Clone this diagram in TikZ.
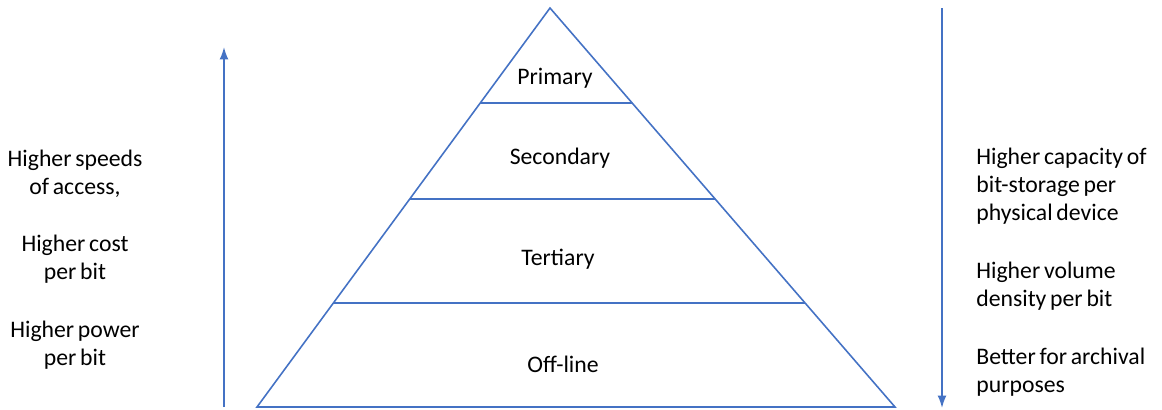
\documentclass[tikz,border=0pt]{standalone}
\usepackage{fontspec}
\setmainfont{Carlito}[WordSpace=0.7]
\usetikzlibrary{arrows.meta,calc}
\definecolor{pyrblue}{HTML}{4472C4}
\tikzset{
  pyrline/.style={draw=pyrblue, line width=0.9pt},
  levellabel/.style={font=\fontsize{13.5}{16}\selectfont, inner sep=0pt},
  sidetext/.style={font=\fontsize{13.5}{16}\selectfont, inner sep=0pt}
}
\begin{document}
\begin{tikzpicture}[x=0.02cm, y=-0.02cm]
        \useasboundingbox (0,0) rectangle (1162,409);
        %% pyramid
        \coordinate (apex) at (550,8);
        \coordinate (bl) at (257,407);
        \coordinate (br) at (895,407);
        \draw[pyrline] (bl) -- (apex) -- (br) -- cycle;
        %% level lines
        \foreach \t/\n in {0.2381/one, 0.4787/two, 0.7393/three} {
            \coordinate (l\n) at ($(apex)!\t!(bl)$);
            \coordinate (r\n) at ($(apex)!\t!(br)$);
            \draw[pyrline] (l\n) -- (r\n);
        }
        %% level labels
        \node[levellabel] (primary) at (555,78) {Primary};
        \node[levellabel] (secondary) at (560,158) {Secondary};
        \node[levellabel] (tertiary) at (558,259) {Tertiary};
        \node[levellabel] (offline) at (563,364) {Off-line};
        %% left arrow
        \coordinate (upfoot) at (224,407);
        \coordinate (uptip) at (224,47);
        \draw[pyrline,-{Latex[length=7pt,width=5pt]}] (upfoot) -- (uptip);
        %% right arrow
        \coordinate (downtop) at (942,8);
        \coordinate (downtip) at (942,408);
        \draw[pyrline,-{Latex[length=7pt,width=5pt]}] (downtop) -- (downtip);
        %% left texts
        \node[sidetext, align=center] (speed) at (75,174) {Higher speeds\\of access,};
        \node[sidetext, align=center] (cost) at (75,259) {Higher cost\\per bit};
        \node[sidetext, align=center] (power) at (75,345) {Higher power\\per bit};
        %% right texts
        \node[sidetext, align=left, anchor=west] (capacity) at (976,186) {Higher capacity of\\bit-storage per\\physical device};
        \node[sidetext, align=left, anchor=west] (volume) at (976,286) {Higher volume\\density per bit};
        \node[sidetext, align=left, anchor=west] (archival) at (976,372) {Better for archival\\purposes};
    \end{tikzpicture}
\end{document}
